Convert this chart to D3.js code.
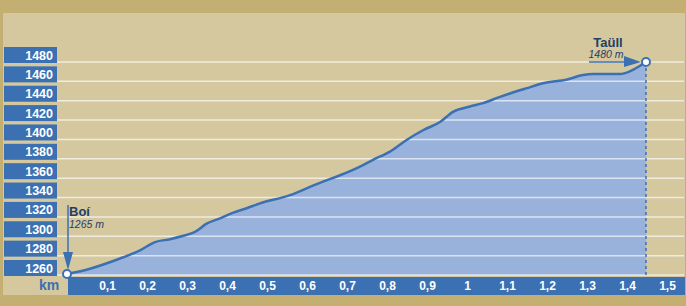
<!DOCTYPE html>
<html><head><meta charset="utf-8">
<script src="https://cdn.jsdelivr.net/npm/d3@7"></script>
<style>body{margin:0;background:#c3af72;}svg{display:block;font-family:"Liberation Sans",Arial,sans-serif;}</style>
</head><body>
<script>
const distanceKm = [0,0.0575,0.1325,0.1825,0.22,0.2575,0.291,0.32,0.349,0.3825,0.416,0.449,0.4825,0.5575,0.6075,0.64,0.6825,0.7325,0.765,0.8075,0.849,0.89,0.9325,0.965,1.0075,1.04,1.0825,1.1075,1.15,1.19,1.25,1.29,1.315,1.3825,1.395,1.4475];
const elevationM = [1261,1266.5,1277,1285.5,1294,1297,1300.5,1304.5,1313,1318.5,1324.5,1329,1334,1342.5,1351,1356.5,1363,1372,1379,1387.5,1399.5,1409.5,1418,1428.5,1434,1437.5,1444,1447.5,1453,1458,1462,1466.5,1467.5,1467.5,1468.5,1480];
const yTicks = [1260,1280,1300,1320,1340,1360,1380,1400,1420,1440,1460,1480];
const xTicks = [0.1,0.2,0.3,0.4,0.5,0.6,0.7,0.8,0.9,1,1.1,1.2,1.3,1.4,1.5];
const startLabel = {name:"Boí", elev:"1265 m"};
const endLabel = {name:"Taüll", elev:"1480 m"};

const W=686,H=306;
const BLUE="#3b70b3", FILL="#98b2dc", PANEL="#d5c89f", DARK="#1f3f66";
const svg=d3.select("body").append("svg").attr("width",W).attr("height",H);
svg.append("rect").attr("width",W).attr("height",H).attr("fill","#c3af72");
svg.append("rect").attr("x",3).attr("y",13).attr("width",682).attr("height",282).attr("fill",PANEL);

const x=d3.scaleLinear().domain([0,1]).range([67,467]);
const y=d3.scaleLinear().domain([1260,1480]).range([275,62]);

const data=distanceKm.map((d,i)=>({d,e:elevationM[i]}));
const area=d3.area().x(p=>x(p.d)).y0(y(1260)).y1(p=>y(p.e)).curve(d3.curveMonotoneX);
const line=d3.line().x(p=>x(p.d)).y(p=>y(p.e)).curve(d3.curveMonotoneX);

svg.append("path").datum(data).attr("d",area).attr("fill",FILL);

// gridlines
svg.append("g").selectAll("line").data(yTicks).join("line")
  .attr("x1",57).attr("x2",684).attr("y1",d=>y(d)).attr("y2",d=>y(d))
  .attr("stroke","#ffffff").attr("stroke-opacity",0.65).attr("stroke-width",1.5);

// y label boxes
const yl=svg.append("g");
yl.selectAll("rect").data(yTicks).join("rect")
  .attr("x",4).attr("width",53).attr("y",d=>y(d)-15).attr("height",16).attr("fill",BLUE);
yl.selectAll("text").data(yTicks).join("text")
  .attr("x",53).attr("y",d=>y(d)-2.5).attr("text-anchor","end")
  .attr("fill","#fff").attr("font-weight","bold").attr("font-size",12.5).text(d=>d);

// x axis bar
const last=data[data.length-1];
svg.append("line").attr("x1",x(last.d)).attr("x2",x(last.d)).attr("y1",y(last.e)).attr("y2",277)
  .attr("stroke",BLUE).attr("stroke-width",1.5).attr("stroke-dasharray","3,3");
svg.append("rect").attr("x",68).attr("y",277).attr("width",617).attr("height",18).attr("fill",BLUE);
svg.append("g").selectAll("text").data(xTicks).join("text")
  .attr("x",d=>x(d)+0.5).attr("y",289.5).attr("text-anchor","middle")
  .attr("fill","#fff").attr("font-weight","bold").attr("font-size",12)
  .text(d=>d3.format("")(d).replace(".",","));
svg.append("text").attr("x",49).attr("y",289.5).attr("text-anchor","middle")
  .attr("fill",BLUE).attr("font-weight","bold").attr("font-size",14).text("km");

svg.append("path").datum(data).attr("d",line).attr("fill","none").attr("stroke",BLUE).attr("stroke-width",2.5);

// start annotation
const first=data[0];
const sx=x(first.d), sy=y(first.e);
svg.append("line").attr("x1",sx+1).attr("x2",sx+1).attr("y1",205).attr("y2",255).attr("stroke",BLUE).attr("stroke-width",1.5);
svg.append("path").attr("d",`M${sx-4},252 L${sx+6},252 L${sx+1},270 Z`).attr("fill",BLUE);
svg.append("text").attr("x",sx+2).attr("y",216).attr("fill",DARK).attr("font-weight","bold").attr("font-size",13).text(startLabel.name);
svg.append("text").attr("x",sx+2).attr("y",228).attr("fill",DARK).attr("font-style","italic").attr("font-size",10.5).text(startLabel.elev);

// end annotation
const ex=x(last.d), ey=y(last.e);
svg.append("line").attr("x1",589).attr("x2",626).attr("y1",ey).attr("y2",ey).attr("stroke",BLUE).attr("stroke-width",1.5);
svg.append("path").attr("d",`M624,${ey-6} L624,${ey+5} L641,${ey} Z`).attr("fill",BLUE);
svg.append("text").attr("x",608).attr("y",46.5).attr("text-anchor","middle").attr("fill",DARK).attr("font-weight","bold").attr("font-size",13).text(endLabel.name);
svg.append("text").attr("x",606).attr("y",58).attr("text-anchor","middle").attr("fill",DARK).attr("font-style","italic").attr("font-size",10.5).text(endLabel.elev);

[[sx,sy],[ex,ey]].forEach(([cx,cy])=>svg.append("circle").attr("cx",cx).attr("cy",cy).attr("r",4).attr("fill","#fff").attr("stroke",BLUE).attr("stroke-width",2));
</script>
</body></html>
